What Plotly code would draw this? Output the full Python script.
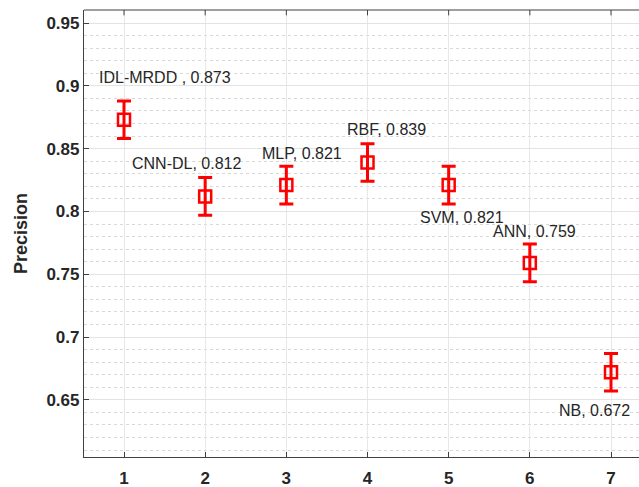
import plotly.graph_objects as go

methods = ["IDL-MRDD", "CNN-DL", "MLP", "RBF", "SVM", "ANN", "NB"]
x_pos = [1, 2, 3, 4, 5, 6, 7]
precision = [0.873, 0.812, 0.821, 0.839, 0.821, 0.759, 0.672]
err = [0.015, 0.015, 0.015, 0.015, 0.015, 0.015, 0.015]
label_sep = [" , ", ", ", ", ", ", ", ", ", ", ", ", "]

# label offsets (style/layout): dx in x units, dy in y units
label_dx = [0.51, -0.236, 0.19, 0.23, 0.16, 0.06, -0.20]
label_dy = [0.034, 0.026, 0.025, 0.026, -0.026, 0.025, -0.0305]

RED = "#ff0000"
TXT = "#262626"
FONT = "Liberation Sans, Arial, Helvetica, sans-serif"

fig = go.Figure()
fig.add_trace(go.Scatter(
    x=x_pos, y=precision, mode="markers",
    marker=dict(symbol="square-open", size=12, color=RED, line=dict(width=2.5, color=RED)),
    error_y=dict(type="data", array=err, visible=True, color=RED, thickness=3, width=7),
    showlegend=False, hoverinfo="skip",
))

for xi, yi, m, s, dx, dy in zip(x_pos, precision, methods, label_sep, label_dx, label_dy):
    fig.add_annotation(x=xi + dx, y=yi + dy, text=f"{m}{s}{yi:.3f}", showarrow=False,
                       font=dict(family=FONT, size=16, color=TXT),
                       xanchor="center", yanchor="middle")

yt = [0.65, 0.7, 0.75, 0.8, 0.85, 0.9, 0.95]
fig.update_layout(
    width=639, height=487,
    margin=dict(l=84, r=0, t=10, b=30),
    plot_bgcolor="white", paper_bgcolor="white",
    font=dict(family=FONT, color=TXT),
    xaxis=dict(range=[0.507, 7.345], tickvals=x_pos, ticktext=[str(v) for v in x_pos],
               ticks="inside", ticklen=5, tickcolor="#404040", tickwidth=1,
               showline=True, linecolor="#404040", linewidth=1.2,
               showgrid=True, gridcolor="#e8e8e8", gridwidth=1, zeroline=False,
               tickfont=dict(family=FONT, size=17, color=TXT, weight="bold"),
               ticklabelstandoff=5, automargin=False),
    yaxis=dict(range=[0.6045, 0.9604], tickvals=yt, ticktext=[f"{v:g}" for v in yt],
               ticks="inside", ticklen=5, tickcolor="#404040", tickwidth=1,
               showline=True, linecolor="#404040", linewidth=1.2,
               showgrid=True, gridcolor="#e3e3e3", gridwidth=1.2, zeroline=False,
               tickfont=dict(family=FONT, size=17, color=TXT, weight="bold"),
               minor=dict(dtick=0.01, tick0=0.6, showgrid=True, gridcolor="#d8d8d8",
                          griddash="dot", gridwidth=1, ticks=""),
               automargin=False,
               title=dict(text="Precision", font=dict(family=FONT, size=18, color=TXT, weight="bold"),
                          standoff=14)),
)

# top box line and mirrored top ticks
fig.add_shape(type="line", xref="paper", yref="paper", x0=0, x1=1, y0=1, y1=1,
              line=dict(color="#404040", width=1.2))
for xi in x_pos:
    fig.add_shape(type="line", xref="x", yref="paper", x0=xi, x1=xi, y0=1, y1=0.988,
                  line=dict(color="#404040", width=1))

fig.write_html("out.html")
